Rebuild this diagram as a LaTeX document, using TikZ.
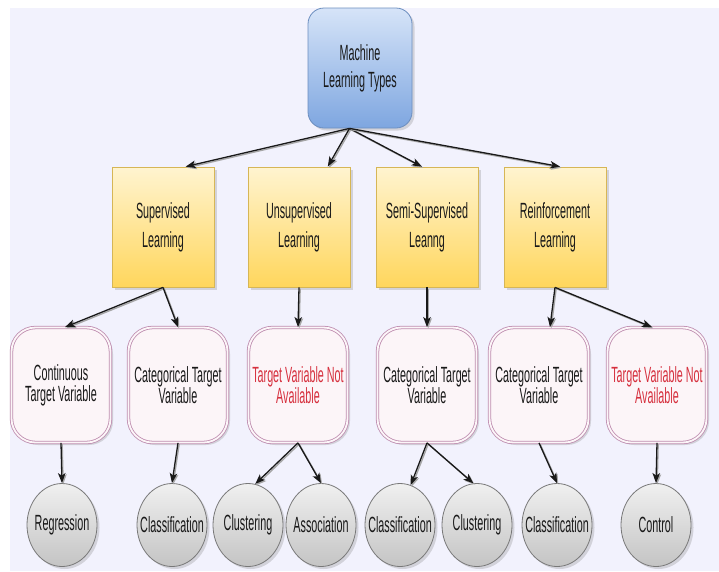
\documentclass[tikz,border=0pt]{standalone}
\usepackage{fontspec}
\setmainfont{Liberation Sans}[FakeStretch=0.49]
\usetikzlibrary{shapes.geometric,shadows,calc,arrows.meta}

\definecolor{bg}{RGB}{242,242,253}
\definecolor{blueTop}{RGB}{214,228,248}
\definecolor{blueBot}{RGB}{126,166,224}
\definecolor{blueLine}{RGB}{108,142,191}
\definecolor{yelTop}{RGB}{255,244,208}
\definecolor{yelBot}{RGB}{255,214,92}
\definecolor{yelLine}{RGB}{214,182,86}
\definecolor{pinkFill}{RGB}{252,245,248}
\definecolor{pinkLine}{RGB}{190,140,175}
\definecolor{grayTop}{RGB}{240,240,240}
\definecolor{grayBot}{RGB}{196,196,196}
\definecolor{grayLine}{RGB}{120,120,120}
\definecolor{warn}{RGB}{214,48,62}
\definecolor{ink}{RGB}{25,25,25}

\tikzset{
  softshadow/.style={drop shadow={opacity=0.28, shadow xshift=2.5pt, shadow yshift=-2.5pt}},
  rootbox/.style={draw=blueLine, line width=0.8pt, rounded corners=16pt,
    top color=blueTop, bottom color=blueBot, softshadow,
    minimum width=104pt, minimum height=120pt, inner sep=0pt, align=center,
    text=ink, font=\fontsize{22}{27}\selectfont},
  typebox/.style={draw=yelLine, line width=0.8pt,
    top color=yelTop, bottom color=yelBot, softshadow,
    minimum width=102pt, minimum height=120pt, inner sep=0pt, align=center,
    text=ink, font=\fontsize{22}{29}\selectfont},
  targetbox/.style={draw=pinkLine, double=pinkFill, double distance=1.8pt,
    line width=0.8pt, fill=pinkFill, rounded corners=24pt, softshadow,
    minimum width=99pt, minimum height=115pt, inner sep=0pt, align=center,
    text=ink, font=\fontsize{22}{21}\selectfont},
  taskball/.style={ellipse, draw=grayLine, line width=0.8pt,
    top color=grayTop, bottom color=grayBot, softshadow,
    minimum width=70pt, minimum height=83pt, inner xsep=-14pt, inner ysep=0pt,
    align=center, text=ink, font=\fontsize{22}{22}\selectfont},
  link/.style={draw=ink, line width=1.3pt,
    -{Stealth[length=10pt, width=7.5pt, inset=2.5pt]},
    preaction={draw=black!35, line width=1.3pt,
      transform canvas={shift={(1.2pt,-1.2pt)}}}}
}

\begin{document}
\begin{tikzpicture}[x=1pt, y=-1pt]
  % canvas and backdrop
  \useasboundingbox (0,0) rectangle (719,571);
  \fill[white] (0,0) rectangle (719,571);
  \fill[bg] (10,8) rectangle (719,571);

  % root
  \node[rootbox] (root) at (360,68) {Machine\\Learning Types};

  % learning types
  \node[typebox] (sup)  at (163,227) {Supervised\\Learning};
  \node[typebox] (uns)  at (299,227) {Unsupervised\\Learning};
  \node[typebox] (semi) at (427,227) {Semi-Supervised\\Leanng};
  \node[typebox] (rein) at (555,227) {Reinforcement\\Learning};

  % target variables
  \node[targetbox] (cont) at (61,385)  {Continuous\\Target Variable};
  \node[targetbox] (catA) at (178,385) {Categorical Target\\Variable};
  \node[targetbox] (naA)  at (298,385) {\textcolor{warn}{Target Variable Not}\\\textcolor{warn}{Available}};
  \node[targetbox] (catB) at (427,385) {Categorical Target\\Variable};
  \node[targetbox] (catC) at (539,385) {Categorical Target\\Variable};
  \node[targetbox] (naB)  at (657,385) {\textcolor{warn}{Target Variable Not}\\\textcolor{warn}{Available}};

  % tasks
  \node[taskball] (reg)   at (62,525)  {Regression};
  \node[taskball] (clsA)  at (172,525) {Classification};
  \node[taskball] (cluA)  at (248,525) {Clustering};
  \node[taskball] (assoc) at (321,525) {Association};
  \node[taskball] (clsB)  at (400,525) {Classification};
  \node[taskball] (cluB)  at (477,525) {Clustering};
  \node[taskball] (clsC)  at (557,525) {Classification};
  \node[taskball] (ctrl)  at (656,525) {Control};

  % root to learning types
  \coordinate (rootout) at ($(root.south west)!0.4!(root.south east)$);
  \draw[link] (rootout) -- ($(sup.north west)!0.72!(sup.north east)$);
  \draw[link] (rootout) -- ($(uns.north west)!0.78!(uns.north east)$);
  \draw[link] (rootout) -- ($(semi.north west)!0.45!(semi.north east)$);
  \draw[link] (rootout) -- ($(rein.north west)!0.55!(rein.north east)$);

  % learning types to target variables
  \draw[link] (sup.south) -- ($(cont.north west)!0.54!(cont.north east)$);
  \draw[link] (sup.south) -- (catA.north);
  \draw[link] (uns.south) -- (naA.north);
  \draw[link] (semi.south) -- (catB.north);
  \draw[link] (rein.south) -- ($(catC.north west)!0.61!(catC.north east)$);
  \draw[link] (rein.south) -- ($(naB.north west)!0.45!(naB.north east)$);

  % target variables to tasks
  \draw[link] (cont.south) -- (reg.north);
  \draw[link] (catA.south) -- (clsA.north);
  \draw[link] (naA.south) -- (cluA.80);
  \draw[link] (naA.south) -- (assoc.north);
  \draw[link] (catB.south) -- (clsB.75);
  \draw[link] (catB.south) -- (cluB.95);
  \draw[link] (catC.south) -- (clsC.north);
  \draw[link] (naB.south) -- (ctrl.north);
\end{tikzpicture}
\end{document}
